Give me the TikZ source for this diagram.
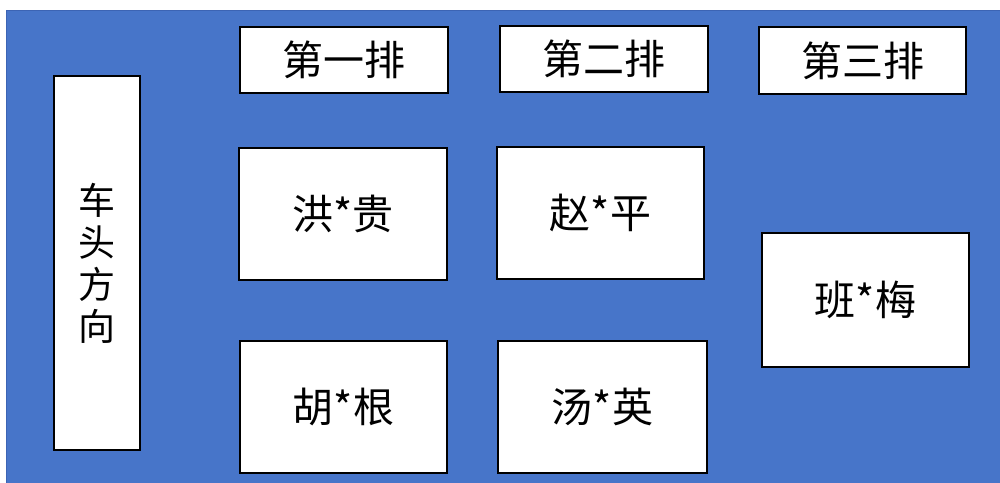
\documentclass[tikz,border=0pt]{standalone}
\usepackage{fontspec}
\newfontfamily\cjk{Noto Sans CJK SC}
\definecolor{bgblue}{RGB}{71,117,201}
\definecolor{bgedge}{RGB}{60,100,180}
\begin{document}
\begin{tikzpicture}[x=1pt,y=-1pt,
  seat/.style={draw=black,line width=1.6pt,fill=white,inner sep=0pt,font=\cjk\fontsize{41}{44}\selectfont},
]
\useasboundingbox[fill=white] (0,0) rectangle (1000,482);
\fill[bgblue,draw=bgedge,line width=0.8pt] (6.5,10.5) rectangle (1001,483);
% head direction
\node[seat,minimum width=86pt,minimum height=374pt,font=\cjk\fontsize{37}{42}\selectfont,align=center] (head) at (97,263) {车\\头\\方\\向};
% row labels
\node[seat,minimum width=208pt,minimum height=66pt] (r1) at (344,60) {第一排};
\node[seat,minimum width=208pt,minimum height=66pt] (r2) at (604,59) {第二排};
\node[seat,minimum width=207pt,minimum height=67pt] (r3) at (862.5,60.5) {第三排};
% passengers
\node[seat,minimum width=208pt,minimum height=132pt] (p1) at (343,214) {洪*贵};
\node[seat,minimum width=207pt,minimum height=132pt] (p2) at (600.5,213) {赵*平};
\node[seat,minimum width=207pt,minimum height=132pt] (p3) at (343.5,407) {胡*根};
\node[seat,minimum width=209pt,minimum height=132pt] (p4) at (602.5,407) {汤*英};
\node[seat,minimum width=207pt,minimum height=134pt] (p5) at (865.5,300) {班*梅};
\end{tikzpicture}
\end{document}
